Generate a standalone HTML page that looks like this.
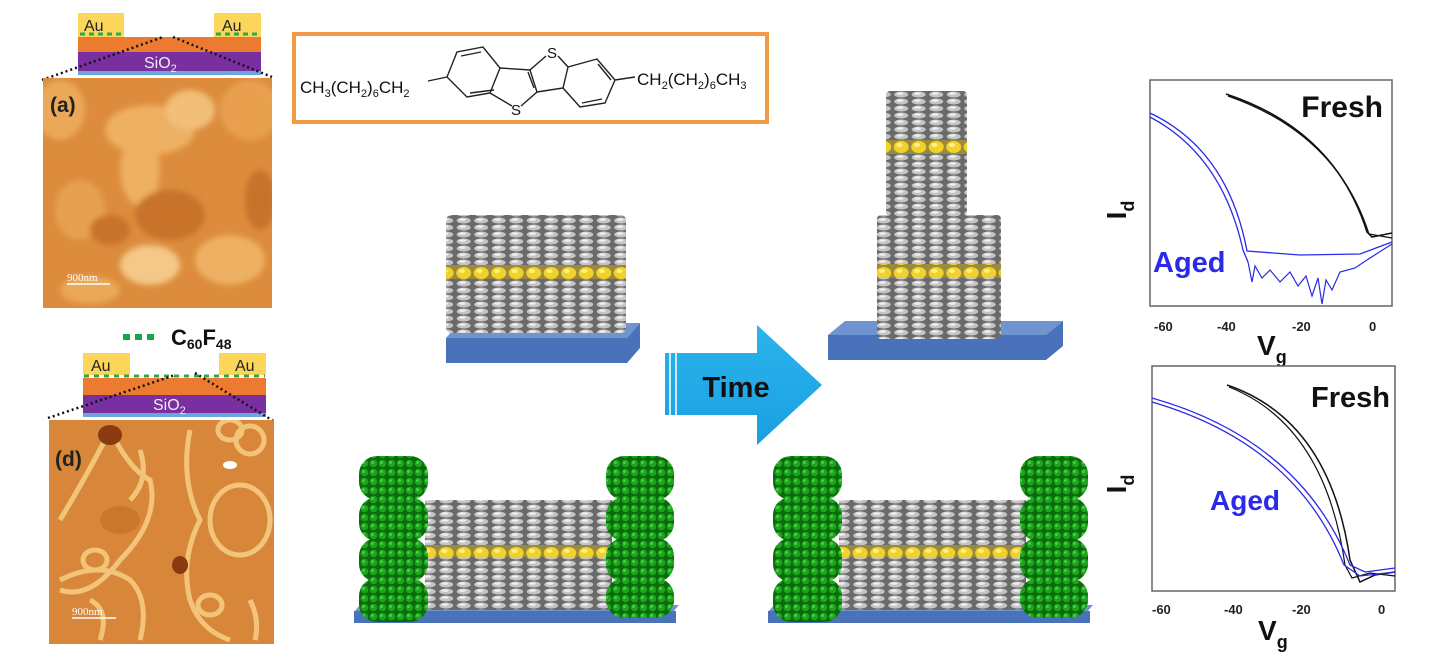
<!DOCTYPE html>
<html><head><meta charset="utf-8"><style>
html,body{margin:0;padding:0;background:#fff;}
svg{display:block;}
text{font-family:"Liberation Sans",sans-serif;}
</style></head><body>
<svg width="1439" height="655" viewBox="0 0 1439 655" xmlns="http://www.w3.org/2000/svg">
<defs>
<pattern id="mol" width="17.5" height="7" patternUnits="userSpaceOnUse">
<rect width="17.5" height="7" fill="#6a6a6a"/>
<ellipse cx="8.7" cy="3.5" rx="7" ry="3" fill="#c4c4c4"/>
<ellipse cx="7.5" cy="2.6" rx="3.5" ry="1.3" fill="#eeeeee"/>
</pattern>
<pattern id="yel" width="17.5" height="14" patternUnits="userSpaceOnUse">
<rect width="17.5" height="14" fill="#9a8a40"/>
<ellipse cx="8.7" cy="7" rx="7.5" ry="6" fill="#f1d22a"/>
<ellipse cx="7" cy="5" rx="3" ry="2" fill="#fff08a"/>
</pattern>
<pattern id="grn" width="9" height="9" patternUnits="userSpaceOnUse">
<rect width="9" height="9" fill="#0b6a0b"/>
<circle cx="4.5" cy="4.5" r="3.8" fill="#1ea31e"/>
<circle cx="3.5" cy="3.5" r="1.5" fill="#3fd23f"/>
</pattern>
<linearGradient id="arr" x1="0" x2="0" y1="0" y2="1">
<stop offset="0" stop-color="#2bb4ee"/><stop offset="1" stop-color="#1a9fe0"/>
</linearGradient>
<filter id="bl"><feGaussianBlur stdDeviation="3"/></filter>
<clipPath id="ca"><rect x="43" y="78" width="229" height="230"/></clipPath>
<clipPath id="cd"><rect x="49" y="420" width="225" height="224"/></clipPath>
</defs>

<!-- Device (a) -->
<rect x="78" y="13" width="46" height="24" fill="#fbd65a"/>
<rect x="214" y="13" width="47" height="24" fill="#fbd65a"/>
<text x="84" y="31" font-size="16" fill="#222">Au</text>
<text x="222" y="31" font-size="16" fill="#222">Au</text>
<line x1="80" y1="34" x2="122" y2="34" stroke="#2ca84a" stroke-width="3" stroke-dasharray="5,4"/>
<line x1="216" y1="34" x2="259" y2="34" stroke="#2ca84a" stroke-width="3" stroke-dasharray="5,4"/>
<rect x="78" y="37" width="183" height="15" fill="#ec7a30"/>
<rect x="78" y="52" width="183" height="19" fill="#7a2fa0"/>
<rect x="78" y="71" width="183" height="4" fill="#6aa8dc"/>
<text x="144" y="68" font-size="16" fill="#eee">SiO<tspan font-size="11" dy="4">2</tspan></text>
<line x1="42" y1="80" x2="163" y2="37" stroke="#111" stroke-width="2.5" stroke-dasharray="2,3"/>
<line x1="173" y1="37" x2="272" y2="77" stroke="#111" stroke-width="2.5" stroke-dasharray="2,3"/>

<!-- AFM (a) -->
<g clip-path="url(#ca)">
<rect x="43" y="78" width="229" height="230" fill="#dc8c3c"/>
<g filter="url(#bl)">
<ellipse cx="60" cy="110" rx="25" ry="30" fill="#eaa858"/>
<ellipse cx="150" cy="130" rx="45" ry="25" fill="#eeb062"/>
<ellipse cx="190" cy="110" rx="25" ry="20" fill="#f2be78"/>
<ellipse cx="250" cy="110" rx="30" ry="30" fill="#e8a050"/>
<ellipse cx="140" cy="170" rx="20" ry="35" fill="#eeb062"/>
<ellipse cx="80" cy="210" rx="25" ry="30" fill="#e6a050"/>
<ellipse cx="150" cy="265" rx="30" ry="20" fill="#f4c888"/>
<ellipse cx="230" cy="260" rx="35" ry="25" fill="#eeb062"/>
<ellipse cx="170" cy="215" rx="35" ry="25" fill="#c8722a"/>
<ellipse cx="260" cy="200" rx="15" ry="30" fill="#c8722a"/>
<ellipse cx="110" cy="230" rx="20" ry="15" fill="#c8722a"/>
<ellipse cx="90" cy="290" rx="30" ry="14" fill="#eaa858"/>
</g>
</g>
<text x="50" y="112" font-size="21" font-weight="bold" fill="#222">(a)</text>
<text x="67" y="281" font-size="11" fill="#fff" style="font-family:'Liberation Serif',serif">900nm</text>
<line x1="67" y1="284" x2="110" y2="284" stroke="#fff" stroke-width="1.5"/>

<!-- Device (d) -->
<line x1="123" y1="337" x2="158" y2="337" stroke="#12a84a" stroke-width="6" stroke-dasharray="7,5"/>
<text x="171" y="345" font-size="22" font-weight="bold" fill="#111">C<tspan font-size="14" dy="4">60</tspan><tspan dy="-4">F</tspan><tspan font-size="14" dy="4">48</tspan></text>
<rect x="83" y="353" width="47" height="22" fill="#fbd65a"/>
<rect x="219" y="353" width="47" height="22" fill="#fbd65a"/>
<text x="91" y="371" font-size="16" fill="#222">Au</text>
<text x="235" y="371" font-size="16" fill="#222">Au</text>
<line x1="84" y1="376" x2="265" y2="376" stroke="#2ca84a" stroke-width="3" stroke-dasharray="5,5"/>
<rect x="83" y="378" width="183" height="17" fill="#ec7a30"/>
<rect x="83" y="395" width="183" height="18" fill="#7a2fa0"/>
<rect x="83" y="413" width="183" height="4" fill="#6aa8dc"/>
<text x="153" y="410" font-size="16" fill="#eee">SiO<tspan font-size="11" dy="4">2</tspan></text>
<line x1="48" y1="418" x2="175" y2="375" stroke="#111" stroke-width="2.5" stroke-dasharray="2,3"/>
<line x1="195" y1="373" x2="275" y2="422" stroke="#111" stroke-width="2.5" stroke-dasharray="2,3"/>

<!-- AFM (d) -->
<g clip-path="url(#cd)">
<rect x="49" y="420" width="225" height="224" fill="#d8873a"/>
<g fill="none" stroke="#f2c47a" stroke-width="5">
<path d="M60 520 Q90 470 110 430 Q130 470 150 480 Q160 520 120 560 Q90 600 60 590"/>
<path d="M190 430 Q180 480 200 520 Q180 560 190 600 Q200 630 230 640"/>
<ellipse cx="240" cy="520" rx="30" ry="35"/>
<ellipse cx="230" cy="430" rx="12" ry="10"/>
<ellipse cx="250" cy="440" rx="14" ry="14"/>
<ellipse cx="210" cy="605" rx="12" ry="10"/>
<path d="M60 580 Q100 560 130 580 Q150 600 140 640"/>
<path d="M140 450 Q150 480 130 500"/>
<ellipse cx="95" cy="560" rx="12" ry="10"/>
<path d="M100 640 Q110 610 90 600"/>
<path d="M250 600 Q260 620 255 640"/>
</g>
<ellipse cx="230" cy="465" rx="7" ry="4" fill="#fff"/>
<ellipse cx="110" cy="435" rx="12" ry="10" fill="#8a3a10"/>
<ellipse cx="180" cy="565" rx="8" ry="9" fill="#8a3a10"/>
<ellipse cx="120" cy="520" rx="20" ry="14" fill="#c47028" opacity=".7"/>
</g>
<text x="55" y="466" font-size="21" font-weight="bold" fill="#222">(d)</text>
<text x="72" y="615" font-size="11" fill="#fff" style="font-family:'Liberation Serif',serif">900nm</text>
<line x1="72" y1="618" x2="116" y2="618" stroke="#fff" stroke-width="1.5"/>

<!-- Molecule box -->
<rect x="294" y="34" width="473" height="88" fill="#fff" stroke="#f39a48" stroke-width="4"/>
<text x="300" y="93" font-size="17" fill="#111">CH<tspan font-size="11" dy="4">3</tspan><tspan dy="-4">(CH</tspan><tspan font-size="11" dy="4">2</tspan><tspan dy="-4">)</tspan><tspan font-size="11" dy="4">6</tspan><tspan dy="-4">CH</tspan><tspan font-size="11" dy="4">2</tspan></text>
<text x="637" y="85" font-size="17" fill="#111">CH<tspan font-size="11" dy="4">2</tspan><tspan dy="-4">(CH</tspan><tspan font-size="11" dy="4">2</tspan><tspan dy="-4">)</tspan><tspan font-size="11" dy="4">6</tspan><tspan dy="-4">CH</tspan><tspan font-size="11" dy="4">3</tspan></text>
<g fill="none" stroke="#222" stroke-width="1.4">
<path d="M428 81 L447 77"/>
<path d="M447 77 L457 52 L483 47 L500 68 L490 93 L467 97 Z"/>
<path d="M461 56 L481 52 M494 90 L470 93"/>
<path d="M500 68 L530 70 M490 93 L512 106"/>
<path d="M521 106 L537 92 L530 70 L546 56"/>
<path d="M534 88 L528 72"/>
<path d="M558 56 L568 67 L563 88 L537 92"/>
<path d="M568 67 L597 59 L615 80 L605 103 L580 107 L563 88"/>
<path d="M598 64 L611 80 M582 103 L602 99"/>
<path d="M615 80 L635 77"/>
</g>
<text x="547" y="58" font-size="15" fill="#111">S</text>
<text x="511" y="115" font-size="15" fill="#111">S</text>

<!-- Stack 1 -->
<polygon points="446,338 459,323 640,323 627,338" fill="#6f94d0"/>
<polygon points="446,338 627,338 640,323 640,348 627,363 446,363" fill="#4a72bb"/>
<rect x="446" y="215" width="180" height="118" fill="url(#mol)" rx="5"/>
<rect x="446" y="265" width="180" height="14" fill="url(#yel)"/>

<!-- Time arrow -->
<polygon points="665,353 757,353 757,325 822,385 757,445 757,415 665,415" fill="url(#arr)"/>
<line x1="670" y1="353" x2="670" y2="415" stroke="#fff" stroke-width="1.5"/>
<line x1="676" y1="353" x2="676" y2="415" stroke="#fff" stroke-width="1.5"/>
<text x="736" y="397" font-size="29" font-weight="bold" fill="#111" text-anchor="middle">Time</text>

<!-- Stack 2 -->
<polygon points="828,335 845,321 1063,321 1046,335" fill="#6f94d0"/>
<polygon points="828,335 1046,335 1063,321 1063,346 1046,360 828,360" fill="#4a72bb"/>
<rect x="886" y="91" width="81" height="125" fill="url(#mol)" rx="4"/>
<rect x="886" y="140" width="81" height="14" fill="url(#yel)"/>
<rect x="877" y="215" width="124" height="124" fill="url(#mol)" rx="4"/>
<rect x="877" y="264" width="124" height="14" fill="url(#yel)"/>

<!-- Bottom left -->
<g id="bl1">
<polygon points="354,612 360,605 679,605 673,612" fill="#6f94d0"/>
<rect x="354" y="611" width="322" height="12" fill="#4a72bb"/>
<rect x="425" y="500" width="187" height="110" fill="url(#mol)"/>
<rect x="425" y="545" width="187" height="12" fill="url(#yel)"/>
<g fill="url(#grn)">
<rect x="359" y="456" width="69" height="44" rx="18"/>
<rect x="359" y="497" width="69" height="44" rx="18"/>
<rect x="359" y="538" width="69" height="44" rx="18"/>
<rect x="359" y="578" width="69" height="44" rx="18"/>
<rect x="606" y="456" width="68" height="44" rx="18"/>
<rect x="606" y="497" width="68" height="44" rx="18"/>
<rect x="606" y="538" width="68" height="44" rx="18"/>
<rect x="606" y="578" width="68" height="40" rx="18"/>
</g>
</g>
<use href="#bl1" transform="translate(414,0)"/>

<!-- Plot top -->
<rect x="1150" y="80" width="242" height="226" fill="#fff" stroke="#666" stroke-width="1.5"/>
<path d="M1226 94 Q1335 130 1367 232 L1372 237 L1392 233" fill="none" stroke="#111" stroke-width="1.6"/>
<path d="M1228 96 Q1337 134 1369 234 L1392 238" fill="none" stroke="#111" stroke-width="1.2"/>
<path d="M1150 113 Q1228 150 1247 251 L1300 255 L1360 254 L1392 242" fill="none" stroke="#2a2ae8" stroke-width="1.3"/>
<path d="M1150 117 Q1222 155 1243 250 L1248 262" fill="none" stroke="#2a2ae8" stroke-width="1.3"/>
<path d="M1248 262 L1252 282 L1255 266 L1262 278 L1270 270 L1280 282 L1290 272 L1298 286 L1306 276 L1312 296 L1318 278 L1322 304 L1326 280 L1332 290 L1340 272 L1355 268 L1370 258 L1392 244" fill="none" stroke="#2a2ae8" stroke-width="1.2"/>
<text x="1383" y="117" font-size="30" font-weight="bold" fill="#111" text-anchor="end">Fresh</text>
<text x="1153" y="272" font-size="29" font-weight="bold" fill="#2a2ae8">Aged</text>
<text x="1154" y="331" font-size="13" font-weight="bold" fill="#222">-60</text>
<text x="1217" y="331" font-size="13" font-weight="bold" fill="#222">-40</text>
<text x="1292" y="331" font-size="13" font-weight="bold" fill="#222">-20</text>
<text x="1369" y="331" font-size="13" font-weight="bold" fill="#222">0</text>
<text x="1257" y="355" font-size="28" font-weight="bold" fill="#111">V<tspan font-size="18" dy="8">g</tspan></text>
<text x="1126" y="210" font-size="28" font-weight="bold" fill="#111" transform="rotate(-90 1126 210)" text-anchor="middle">I<tspan font-size="18" dy="8">d</tspan></text>

<!-- Plot bottom -->
<rect x="1152" y="366" width="243" height="225" fill="#fff" stroke="#666" stroke-width="1.5"/>
<path d="M1227 385 Q1330 420 1350 560 L1360 582 L1375 575 L1395 572" fill="none" stroke="#111" stroke-width="1.5"/>
<path d="M1229 387 Q1325 425 1345 565 L1352 578 L1370 573 L1395 576" fill="none" stroke="#111" stroke-width="1.2"/>
<path d="M1152 398 Q1300 440 1350 565 L1365 572 L1395 568" fill="none" stroke="#2a2ae8" stroke-width="1.3"/>
<path d="M1152 402 Q1296 444 1344 565 L1360 576 L1395 572" fill="none" stroke="#2a2ae8" stroke-width="1.3"/>
<text x="1390" y="407" font-size="29" font-weight="bold" fill="#111" text-anchor="end">Fresh</text>
<text x="1210" y="510" font-size="28" font-weight="bold" fill="#2a2ae8">Aged</text>
<text x="1152" y="614" font-size="13" font-weight="bold" fill="#222">-60</text>
<text x="1224" y="614" font-size="13" font-weight="bold" fill="#222">-40</text>
<text x="1292" y="614" font-size="13" font-weight="bold" fill="#222">-20</text>
<text x="1378" y="614" font-size="13" font-weight="bold" fill="#222">0</text>
<text x="1258" y="640" font-size="28" font-weight="bold" fill="#111">V<tspan font-size="18" dy="8">g</tspan></text>
<text x="1126" y="484" font-size="28" font-weight="bold" fill="#111" transform="rotate(-90 1126 484)" text-anchor="middle">I<tspan font-size="18" dy="8">d</tspan></text>
</svg>
</body></html>
